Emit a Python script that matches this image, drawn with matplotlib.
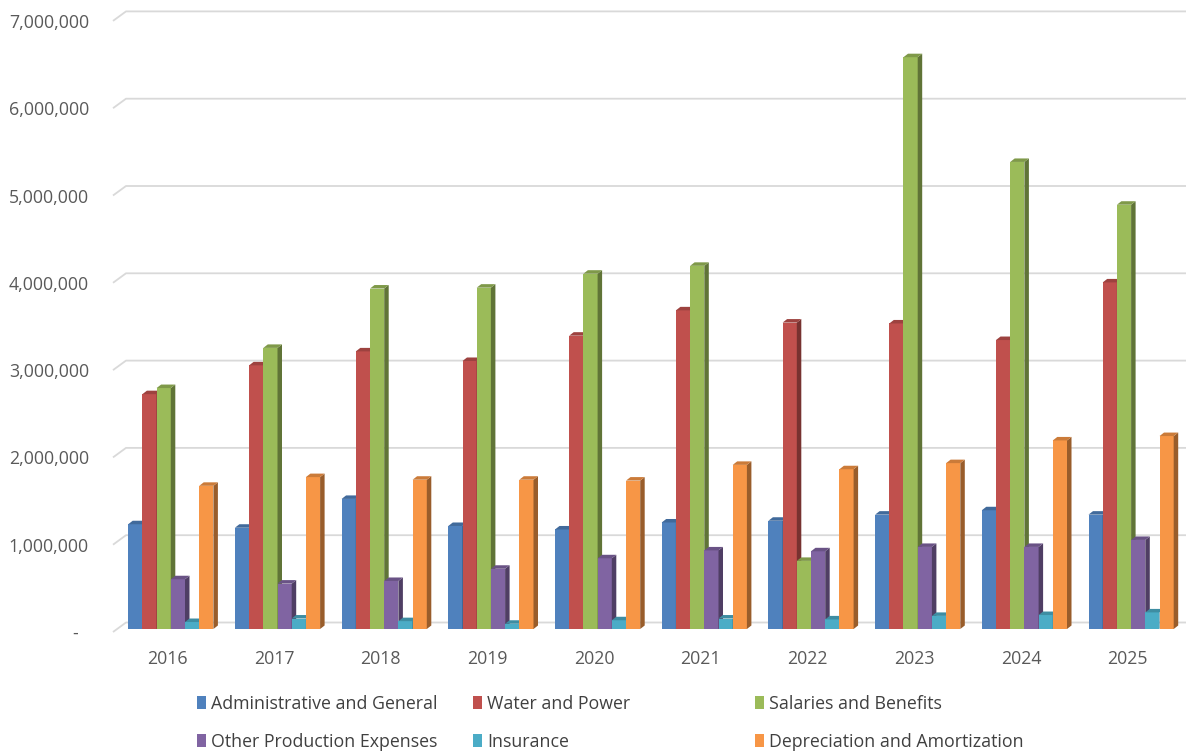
import matplotlib.pyplot as plt
import numpy as np
from matplotlib.patches import Polygon, Patch
from matplotlib.colors import to_rgb

plt.rcParams['font.family'] = ['Open Sans', 'DejaVu Sans']

years = ['2016', '2017', '2018', '2019', '2020', '2021', '2022', '2023', '2024', '2025']
series = ['Administrative and General', 'Water and Power', 'Salaries and Benefits',
          'Other Production Expenses', 'Insurance', 'Depreciation and Amortization']

admin_general = [1200000, 1160000, 1490000, 1180000, 1140000, 1220000, 1240000, 1310000, 1360000, 1310000]
water_power = [2690000, 3020000, 3180000, 3070000, 3360000, 3650000, 3510000, 3500000, 3310000, 3970000]
salaries = [2760000, 3220000, 3900000, 3910000, 4070000, 4160000, 780000, 6550000, 5350000, 4860000]
other_prod = [570000, 520000, 550000, 690000, 810000, 900000, 890000, 940000, 940000, 1020000]
insurance = [80000, 120000, 90000, 60000, 100000, 120000, 110000, 150000, 160000, 190000]
depreciation = [1640000, 1740000, 1710000, 1710000, 1700000, 1880000, 1830000, 1900000, 2160000, 2210000]

y_ticks = [0, 1000000, 2000000, 3000000, 4000000, 5000000, 6000000, 7000000]

colors = ['#4F81BD', '#C0504D', '#9BBB59', '#8064A2', '#4BACC6', '#F79646']
values = [admin_general, water_power, salaries, other_prod, insurance, depreciation]


def shade(c, f):
    r, g, b = to_rgb(c)
    return (r * f, g * f, b * f)


# pixel geometry of the plot area (figure is 1186 x 755 px)
W, H = 1186, 755
px_per_cat = 106.7
px_per_unit = 87.3e-6
x0_px, y0_px = 167.3, 629.0
ax_left, ax_right, ax_top, ax_bottom = 100, 1186, 0, 640

fig = plt.figure(figsize=(W / 100, H / 100), dpi=100)
ax = fig.add_axes([ax_left / W, (H - ax_bottom) / H,
                   (ax_right - ax_left) / W, (ax_bottom - ax_top) / H])
ax.set_xlim((ax_left - x0_px) / px_per_cat, (ax_right - x0_px) / px_per_cat)
ax.set_ylim((y0_px - ax_bottom) / px_per_unit, (y0_px - ax_top) / px_per_unit)
for s in ax.spines.values():
    s.set_visible(False)

# depth of the back wall and of each column
wall_dx = 13 / px_per_cat
floor_front = 3 / px_per_unit
wall_back = 6.5 / px_per_unit
bar_dx = 4.5 / px_per_cat
bar_dy = 3.5 / px_per_unit
bar_w = 14.2 / px_per_cat
group_shift = 3.5 / px_per_cat

# back wall gridlines with the short floor diagonal on the left
xl = (113 - x0_px) / px_per_cat
xr = ax.get_xlim()[1]
for v in y_ticks:
    ax.plot([xl, xl + wall_dx, xr], [v - floor_front, v + wall_back, v + wall_back],
            color='#D9D9D9', lw=1.3, zorder=1, solid_capstyle='butt')

# columns: front face, side face and top face
for k, (vals, col) in enumerate(zip(values, colors)):
    z = 2 + k * 0.1
    x = np.arange(len(years)) + group_shift + (k - 3) * bar_w
    ax.bar(x, vals, width=bar_w, align='edge', color=col, lw=0, zorder=z)
    for xi, v in zip(x, vals):
        x1 = xi + bar_w
        ax.add_patch(Polygon([(x1, 0), (x1 + bar_dx, bar_dy), (x1 + bar_dx, v + bar_dy), (x1, v)],
                             closed=True, fc=shade(col, 0.62), lw=0, zorder=z))
        ax.add_patch(Polygon([(xi, v), (x1, v), (x1 + bar_dx, v + bar_dy), (xi + bar_dx, v + bar_dy)],
                             closed=True, fc=shade(col, 0.82), lw=0, zorder=z))

ax.set_xticks(np.arange(len(years)))
ax.set_xticklabels(years)
ax.set_yticks(np.array(y_ticks) - 35000)
ax.set_yticklabels(['-\u2007' if v == 0 else f'{v:,.0f}' for v in y_ticks])
ax.tick_params(axis='both', length=0, labelsize=12.8, labelcolor='#595959')
ax.tick_params(axis='y', pad=8)
ax.tick_params(axis='x', pad=7)

# legend laid out in three equal columns, two rows
col_px = [197, 473, 755]
for c in range(3):
    handles = [Patch(fc=colors[c]), Patch(fc=colors[c + 3])]
    labels = [series[c], series[c + 3]]
    fig.legend(handles, labels, loc='upper left',
               bbox_to_anchor=(col_px[c] / W, 1 - 695 / H),
               frameon=False, fontsize=12.8, labelcolor='#404040',
               handlelength=0.5, handleheight=0.75, handletextpad=0.3,
               labelspacing=1.1, borderpad=0, borderaxespad=0)

fig.savefig('out.png', dpi=100)
